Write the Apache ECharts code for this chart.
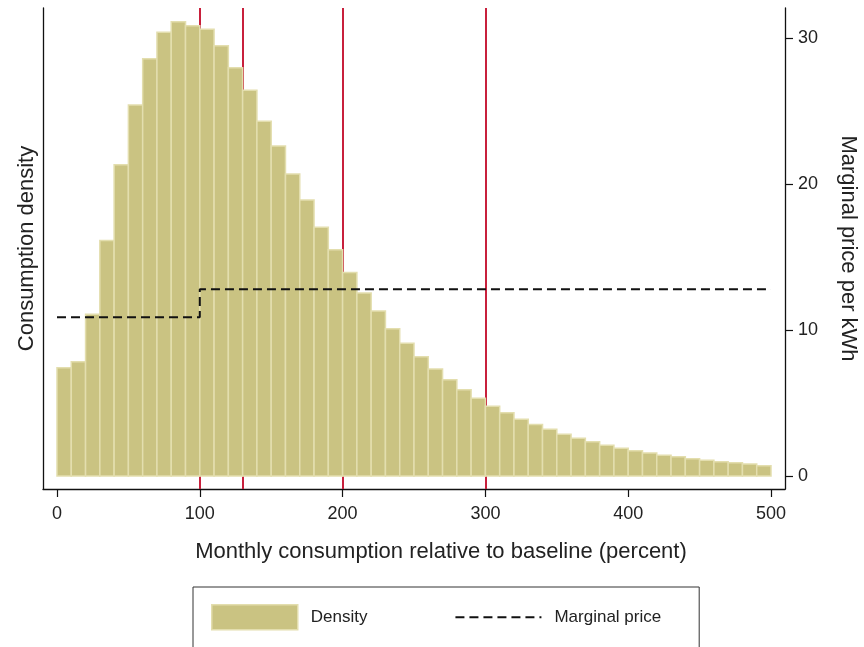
<!DOCTYPE html>
<html>
<head>
<meta charset="utf-8">
<script src="https://cdn.jsdelivr.net/npm/echarts@6/dist/echarts.min.js"></script>
<style>html,body{margin:0;padding:0;background:#fff}#c{width:864px;height:647px}</style>
</head>
<body>
<div id="c"></div>
<script>
// Histogram bins (percent of baseline), width 10
var binStarts = [0,10,20,30,40,50,60,70,80,90,100,110,120,130,140,150,160,170,180,190,200,210,220,230,240,250,260,270,280,290,300,310,320,330,340,350,360,370,380,390,400,410,420,430,440,450,460,470,480,490];
var binWidth = 10;
// Consumption density (scaled units, drawn on the unlabeled left axis)
var densityValues = [7.42,7.83,11.08,16.12,21.32,25.41,28.58,30.39,31.10,30.84,30.60,29.47,27.95,26.42,24.29,22.60,20.68,18.90,17.03,15.50,13.93,12.53,11.30,10.09,9.09,8.17,7.33,6.60,5.91,5.32,4.77,4.34,3.88,3.52,3.20,2.86,2.58,2.35,2.10,1.90,1.73,1.58,1.42,1.32,1.18,1.08,0.98,0.91,0.82,0.71];
// Marginal price step schedule
var priceX = [0,100,100,500];
var priceY = [10.87,10.87,12.79,12.79];
// Tier thresholds (vertical lines)
var thresholds = [100,130,200,300];
// Tick labels
var xTicks = [0,100,200,300,400,500];
var yTicks = [0,10,20,30];

var FONT = 'Liberation Sans, Arial, Helvetica, sans-serif';
var histData = binStarts.map(function(s,i){ return [s, s+binWidth, densityValues[i]]; });
var priceData = priceX.map(function(x,i){ return [x, priceY[i]]; });

var chart = echarts.init(document.getElementById('c'), null, {renderer:'canvas'});
var yMin = -0.89, yMax = 32.05;
chart.setOption({
  animation:false,
  backgroundColor:'#fff',
  grid:{left:43, right:79, top:8, bottom:158, outerBoundsMode:'none', containLabel:false},
  xAxis:{
    type:'value', min:-9.8, max:509.8,
    axisLine:{show:true, onZero:false, lineStyle:{color:'#111', width:1.3}},
    axisTick:{show:true, inside:false, customValues:xTicks, length:8, lineStyle:{color:'#111', width:1.2}},
    axisLabel:{show:true, customValues:xTicks, fontSize:18, color:'#222', margin:16, fontFamily:FONT},
    splitLine:{show:false},
    name:'Monthly consumption relative to baseline (percent)',
    nameLocation:'middle', nameGap:52,
    nameTextStyle:{fontSize:22, color:'#222', fontFamily:FONT, padding:[0,0,0,54]}
  },
  yAxis:[{
    type:'value', min:yMin, max:yMax, position:'left',
    axisLine:{show:true, onZero:false, lineStyle:{color:'#111', width:1.3}},
    axisTick:{show:false}, axisLabel:{show:false}, splitLine:{show:false},
    name:'Consumption density', nameLocation:'middle', nameGap:5, nameRotate:90,
    nameTextStyle:{fontSize:22, color:'#222', fontFamily:FONT}
  },{
    type:'value', min:yMin, max:yMax, position:'right',
    axisLine:{show:true, onZero:false, lineStyle:{color:'#111', width:1.3}},
    axisTick:{show:true, inside:false, customValues:yTicks, length:8, lineStyle:{color:'#111', width:1.2}},
    axisLabel:{show:true, customValues:yTicks, fontSize:18, color:'#222', margin:13, fontFamily:FONT},
    splitLine:{show:false},
    name:'Marginal price per kWh', nameLocation:'middle', nameGap:52, nameRotate:-90,
    nameTextStyle:{fontSize:22, color:'#222', fontFamily:FONT}
  }],
  legend:{
    left:193, top:587,
    data:[
      {name:'Density', icon:'rect', itemStyle:{color:'#cac382', borderColor:'#e3deae', borderWidth:1.5}},
      {name:'Marginal price', itemStyle:{opacity:0, color:'transparent', borderWidth:0}}
    ],
    itemWidth:86, itemHeight:25, itemGap:87,
    padding:[17,38,17,18],
    borderColor:'#333', borderWidth:1, borderRadius:0,
    textStyle:{fontSize:17, color:'#222', fontFamily:FONT, padding:[0,0,0,8]}
  },
  series:[{
    name:'thresholds', type:'line', data:[], xAxisIndex:0, yAxisIndex:0, z:1,
    markLine:{
      silent:true, z:1, symbol:['none','none'], label:{show:false},
      lineStyle:{color:'#c8203c', width:2, type:'solid'},
      data: thresholds.map(function(t){ return {xAxis:t}; })
    }
  },{
    name:'Density', type:'custom', xAxisIndex:0, yAxisIndex:0, z:3,
    data:histData,
    encode:{x:[0,1], y:2},
    itemStyle:{color:'#cac382'},
    renderItem:function(params, api){
      var p0 = api.coord([api.value(0), api.value(2)]);
      var p1 = api.coord([api.value(1), 0]);
      return {type:'rect', shape:{x:p0[0], y:p0[1], width:p1[0]-p0[0], height:p1[1]-p0[1]},
        style:{fill:'#cac382', stroke:'#e3deae', lineWidth:1.5}};
    }
  },{
    name:'Marginal price', type:'line', xAxisIndex:0, yAxisIndex:1, z:5,
    data:priceData, symbol:'none', showSymbol:false,
    lineStyle:{color:'#111', width:2, type:[9,5]},
    itemStyle:{color:'#111'}
  }]
});
</script>
</body>
</html>
